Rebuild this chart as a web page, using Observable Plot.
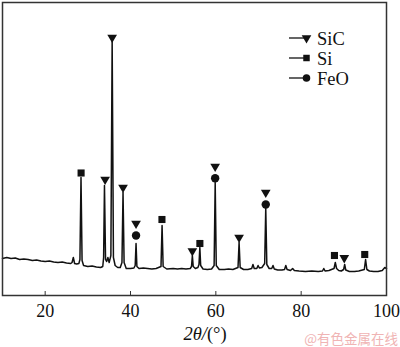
<!DOCTYPE html>
<html><head><meta charset="utf-8">
<script src="https://cdn.jsdelivr.net/npm/d3@7"></script>
<script src="https://cdn.jsdelivr.net/npm/@observablehq/plot@0.6"></script>
<style>
body{margin:0;background:#fff}
#chart svg text{font-family:"Liberation Serif",serif !important;}
#chart svg text.wm{font-family:"Noto Sans CJK SC",sans-serif !important;}
</style>
</head><body><div id="chart"></div>
<script>
// XRD pattern: 2θ (degrees) and intensity (a.u.)
const twoTheta = [10,11,12,13,14,15,16,17,18,19,20,21,22,23,24,25,26,26.3,26.6,26.9,27.4,27.9,28.15,28.4,28.65,29,29.5,30,31,32,33,33.5,33.7,33.9,34.15,34.4,34.7,35,35.4,35.7,36,36.4,37,37.6,38,38.25,38.5,39,40,40.8,41.1,41.3,41.5,42,43,44,45,46,47.15,47.4,47.65,48.5,50,51,52,53,54,54.3,54.5,54.7,55.2,55.8,56.05,56.25,56.45,57,58,59,59.6,59.85,60.1,60.8,62,63,64,65.2,65.45,65.7,66.5,67.5,68.4,68.7,69,69.6,69.9,70.2,70.8,71.45,71.7,71.95,72.5,73.1,73.4,73.7,74.5,75.5,76.1,76.4,76.7,77.5,78,78.4,79.5,81,82.5,84,85,85.3,85.6,86.5,87.7,88,88.3,88.8,89.4,89.95,90.2,90.45,91.3,92.5,93.5,94.8,95.1,95.4,96,97,98,99,99.6,100];
const intensity = [37,38,37,37.5,36,36.5,36,35,35.5,34.5,34,34.5,33.5,33,33.5,32.5,32,33,38,32,31.5,32,36,118,35,30,29.5,29,29.5,28.5,28,29,38,110,36,34,38,33,40,255,38,30,28,28,33,103,33,27,27,27.5,30,52,29,27,27.5,27,26.5,27,29,70,29,26.5,27,26.5,27,26.5,27,29,40,29,27,28,31,48,30,26.5,26,26.5,30,113,30,26,26,26.5,26,28,53,28,26,26,27,31,27,27,30,27.5,28,32,87,31,27,27,30,26.5,25.5,25.5,26,30,26,25,27,25,24.5,24,24.5,24,24.5,27,24.5,25,27,33,27,25,24.5,26,31,25.5,24,24,24.5,26,36,26,24.5,24,24,25,28,27];

// phase markers (2θ, intensity)
const sicTheta = [34.05,35.7,38.25,41.3,54.5,59.84,65.45,71.7,90.1];
const sicInt   = [116,258,108,72,44.5,129,58,103,37.7];
const siTheta  = [28.42,47.37,56.26,87.8,94.9];
const siInt    = [122.5,76,52,40,41];
const feoTheta = [41.3,59.84,71.7];
const feoInt   = [60,117.3,91];

const xTicks = [20,40,60,80,100];
const legendLabels = ["SiC","Si","FeO"];

const curve = twoTheta.map((t,i)=>({t, v:intensity[i]}));
const pts = (xs,ys)=>xs.map((t,i)=>({t, v:ys[i]}));

const plot = Plot.plot({
  width: 400, height: 347,
  marginLeft: 2, marginRight: 14, marginTop: 2, marginBottom: 52,
  x: {domain:[10,100], label:null},
  y: {domain:[0,293], axis:null},
  style: {background:"white", color:"#111"},
  marks: [
    Plot.line(curve, {x:"t", y:"v", stroke:"#111", strokeWidth:1.5}),
    Plot.ruleX(xTicks.slice(0,-1), {y1:0, y2:4, stroke:"#333", strokeWidth:1}),
    Plot.dot(pts(sicTheta,sicInt), {x:"t", y:"v", symbol:"triangle", rotate:180, r:3.6, fill:"#111", stroke:null}),
    Plot.dot(pts(siTheta,siInt), {x:"t", y:"v", symbol:"square", r:4, fill:"#111", stroke:null}),
    Plot.dot(pts(feoTheta,feoInt), {x:"t", y:"v", symbol:"circle", r:4.2, fill:"#111", stroke:null}),
    Plot.frame({stroke:"#333", strokeWidth:1.5}),
    Plot.axisX(xTicks, {tickSize:0, tickPadding:9, fontSize:18, label:null, fill:"#111"})
  ]
});
document.getElementById("chart").appendChild(plot);

const svg = d3.select(plot);
const syms = [d3.symbolTriangle, d3.symbolSquare, d3.symbolCircle];
const sizes = [40, 42, 45];
const lg = svg.append("g");
legendLabels.forEach((lab,i)=>{
  const y = 38 + i*20;
  lg.append("line").attr("x1",289).attr("x2",306).attr("y1",y).attr("y2",y).attr("stroke","#111").attr("stroke-width",1.3);
  lg.append("path").attr("d", d3.symbol(syms[i], sizes[i])()).attr("fill","#111")
    .attr("transform", `translate(306.5,${y})` + (i===0?" rotate(180)":""));
  lg.append("text").attr("x",317).attr("y",y+7).attr("text-anchor","start").attr("font-size",18.5).attr("fill","#111").text(lab);
});

const title = svg.append("text").attr("x",205).attr("y",340).attr("text-anchor","middle")
  .attr("font-size",18.5).attr("fill","#111");
title.append("tspan").attr("font-style","italic").text("2θ/");
title.append("tspan").text("(°)");

svg.append("text").attr("class","wm").attr("x",398).attr("y",344).attr("text-anchor","end")
  .attr("font-size",13.5).attr("fill","#f0b4b4")
  .text("@有色金属在线");
</script>
</body></html>
